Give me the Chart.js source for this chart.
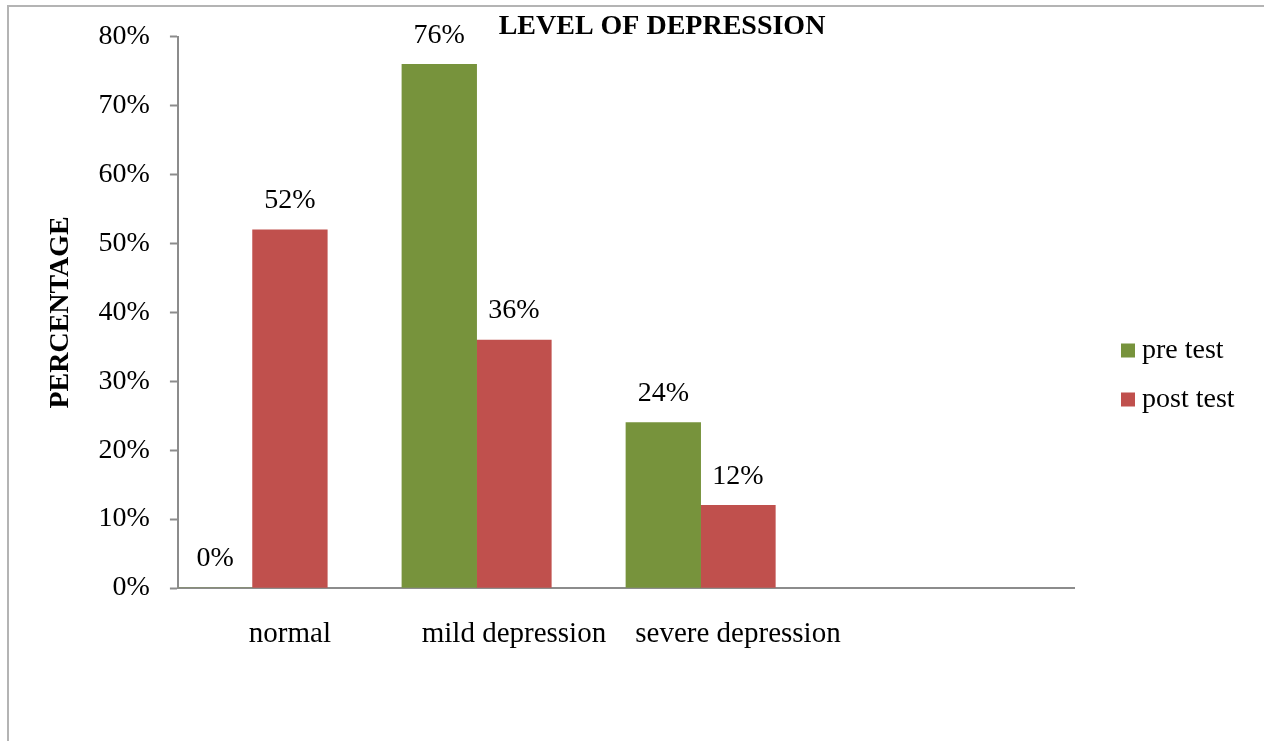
<!DOCTYPE html>
<html>
<head>
<meta charset="utf-8">
<script src="https://cdn.jsdelivr.net/npm/chart.js@4"></script>
<style>
  html, body { margin: 0; padding: 0; background: #fff; overflow: hidden; }
  #wrap { position: absolute; left: 0; top: 0; width: 1264px; height: 741px; }
  #frame { position: absolute; left: 7px; top: 5px; width: 1300px; height: 734px; border: 2px solid #b4b4b4; pointer-events: none; }
</style>
</head>
<body>
<div id="wrap"><canvas id="c" width="1264" height="741"></canvas></div>
<div id="frame"></div>
<script>
const categories = ["normal", "mild depression", "severe depression", ""];
const preTest = [0, 76, 24, null];
const postTest = [52, 36, 12, null];
const seriesNames = ["pre test", "post test"];
const seriesColors = ["#77933C", "#C0504D"];
const yTicks = [0, 10, 20, 30, 40, 50, 60, 70, 80];
const chartTitle = "LEVEL OF DEPRESSION";
const yTitle = "PERCENTAGE";

const FONT = "'Liberation Serif', 'Times New Roman', serif";

const valueLabels = {
  id: 'valueLabels',
  afterDatasetsDraw(chart) {
    const ctx = chart.ctx;
    ctx.save();
    ctx.font = "28px " + FONT;
    ctx.fillStyle = "#000";
    ctx.textAlign = "center";
    ctx.textBaseline = "middle";
    [0, 1].forEach(di => {
      const meta = chart.getDatasetMeta(di);
      meta.data.forEach((bar, i) => {
        const v = chart.data.datasets[di].data[i];
        if (v === null || v === undefined) return;
        ctx.fillText(v + "%", bar.x, bar.y - 29);
      });
    });
    ctx.restore();
  }
};

const titlePlugin = {
  id: 'titlePlugin',
  afterDraw(chart) {
    const ctx = chart.ctx;
    ctx.save();
    ctx.font = "bold 28px " + FONT;
    ctx.fillStyle = "#000";
    ctx.textAlign = "center";
    ctx.textBaseline = "middle";
    ctx.fillText(chartTitle, 662, 27);
    ctx.restore();
  }
};

const sideLegend = {
  id: 'sideLegend',
  afterDraw(chart) {
    const ctx = chart.ctx;
    const area = chart.chartArea;
    const x0 = area.right + 47;
    const yCenter = 375;
    const spacing = 49;
    ctx.save();
    ctx.font = "28px " + FONT;
    ctx.textAlign = "left";
    ctx.textBaseline = "middle";
    seriesNames.forEach((name, i) => {
      const y = yCenter + (i - (seriesNames.length - 1) / 2) * spacing;
      ctx.fillStyle = seriesColors[i];
      ctx.fillRect(x0, y - 7, 14, 14);
      ctx.fillStyle = "#000";
      ctx.fillText(name, x0 + 21, y);
    });
    ctx.restore();
  }
};

new Chart(document.getElementById('c'), {
  type: 'bar',
  data: {
    labels: categories,
    datasets: [
      { label: seriesNames[0], data: preTest, backgroundColor: seriesColors[0], borderWidth: 0 },
      { label: seriesNames[1], data: postTest, backgroundColor: seriesColors[1], borderWidth: 0 },
      { label: '', data: categories.map(() => null), backgroundColor: 'rgba(0,0,0,0)' }
    ]
  },
  options: {
    responsive: false,
    animation: false,
    layout: { padding: { left: 40, right: 190, top: 30, bottom: 19 } },
    datasets: { bar: { categoryPercentage: 1.0, barPercentage: 1.0 } },
    plugins: {
      legend: { display: false },
      title: { display: false },
      tooltip: { enabled: false }
    },
    scales: {
      x: {
        afterFit: axis => { axis.height = 134; },
        grid: { display: true, drawOnChartArea: false, drawTicks: false },
        border: { color: '#8c8c8c', width: 2 },
        ticks: { color: '#000', padding: 29, font: { family: FONT, size: 29 }, maxRotation: 0, autoSkip: false }
      },
      y: {
        min: 0, max: 80,
        afterBuildTicks: axis => { axis.ticks = yTicks.map(v => ({ value: v })); },
        grid: { drawOnChartArea: false, drawTicks: true, tickLength: 8, tickColor: '#8c8c8c', tickWidth: 2 },
        border: { color: '#8c8c8c', width: 2 },
        ticks: { color: '#000', padding: 20, font: { family: FONT, size: 28 }, callback: v => v + '%' },
        title: { display: true, text: yTitle, color: '#000', font: { family: FONT, size: 28, weight: 'bold' }, padding: { top: 4, bottom: 1 } }
      }
    }
  },
  plugins: [valueLabels, titlePlugin, sideLegend]
});
</script>
</body>
</html>
